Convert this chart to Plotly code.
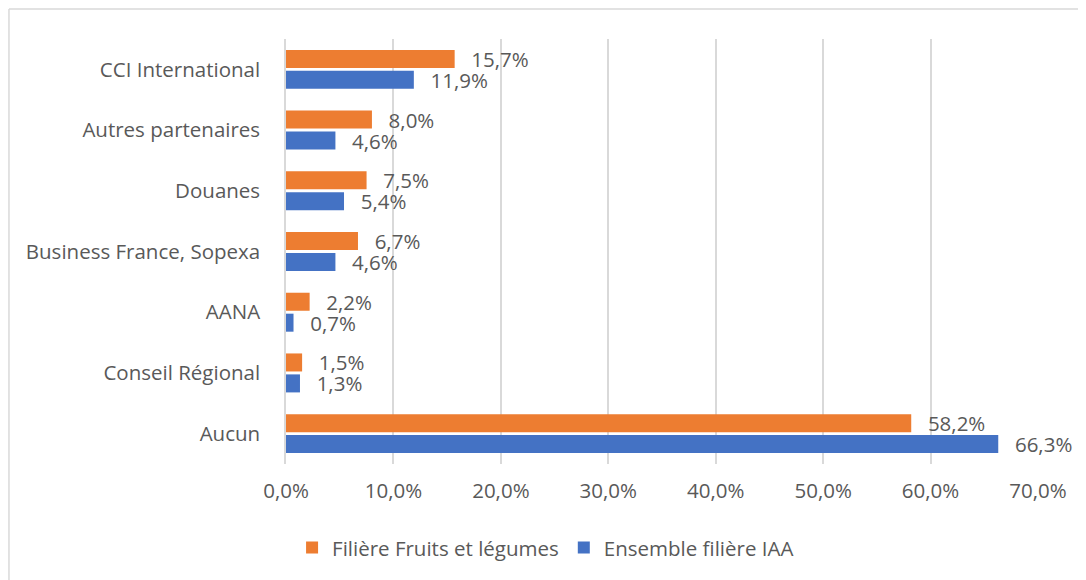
import plotly.graph_objects as go

categories = ["Aucun", "Conseil Régional", "AANA", "Business France, Sopexa",
              "Douanes", "Autres partenaires", "CCI International"]
fruits_legumes = [58.2, 1.5, 2.2, 6.7, 7.5, 8.0, 15.7]
ensemble_iaa = [66.3, 1.3, 0.7, 4.6, 5.4, 4.6, 11.9]
x_ticks = [0, 10, 20, 30, 40, 50, 60, 70]
x_tick_labels = ["0,0%", "10,0%", "20,0%", "30,0%", "40,0%", "50,0%", "60,0%", "70,0%"]

FONT = "Open Sans"
FS = 20.5
GREY = "#595959"
ORANGE = "#ED7D31"
BLUE = "#4472C4"
LABEL = "\u2002\u2009%{x:.1f}%"

fig = go.Figure()
fig.add_trace(go.Bar(
    y=categories, x=ensemble_iaa, orientation="h", name="Ensemble filière IAA",
    marker=dict(color=BLUE, line=dict(width=0)),
    texttemplate=LABEL, textposition="outside", cliponaxis=False,
    constraintext="none",
    textfont=dict(family=FONT, size=FS, color=GREY), legendrank=2,
))
fig.add_trace(go.Bar(
    y=categories, x=fruits_legumes, orientation="h", name="Filière Fruits et légumes",
    marker=dict(color=ORANGE, line=dict(width=0)),
    texttemplate=LABEL, textposition="outside", cliponaxis=False,
    constraintext="none",
    textfont=dict(family=FONT, size=FS, color=GREY), legendrank=1,
))

fig.update_layout(
    width=1086, height=580,
    margin=dict(l=278, r=56, t=31, b=124, autoexpand=False),
    paper_bgcolor="white", plot_bgcolor="white",
    separators=", ",
    barmode="group", bargap=0.31, bargroupgap=0.14,
    font=dict(family=FONT, size=FS, color=GREY),
    showlegend=True,
    legend=dict(orientation="h", xref="container", x=0.495, xanchor="center",
                yref="container", y=0.035, yanchor="bottom",
                font=dict(family=FONT, size=FS, color=GREY),
                itemwidth=30, traceorder="normal"),
    uniformtext=dict(mode=False),
    shapes=[
        dict(type="line", xref="paper", yref="paper", x0=-0.3684, x1=-0.3684,
             y0=-0.5, y1=1.0705, line=dict(color="#D9D9D9", width=1.5)),
        dict(type="line", xref="paper", yref="paper", x0=-0.3684, x1=1.2,
             y0=1.0705, y1=1.0705, line=dict(color="#D9D9D9", width=1.5)),
    ],
)
fig.update_xaxes(
    range=[0, 70], tickvals=x_ticks, ticktext=x_tick_labels,
    showgrid=True, gridcolor="#D9D9D9", gridwidth=1.5,
    zeroline=False, showline=False, ticks="", automargin=False,
    tickfont=dict(family=FONT, size=FS, color=GREY), ticklabelstandoff=12,
)
fig.update_yaxes(
    categoryorder="array", categoryarray=categories, automargin=False,
    showline=True, linecolor="#D9D9D9", linewidth=1.5, showgrid=False,
    ticks="", tickfont=dict(family=FONT, size=FS, color=GREY),
    ticklabelstandoff=20,
)

fig.write_html("out.html")
